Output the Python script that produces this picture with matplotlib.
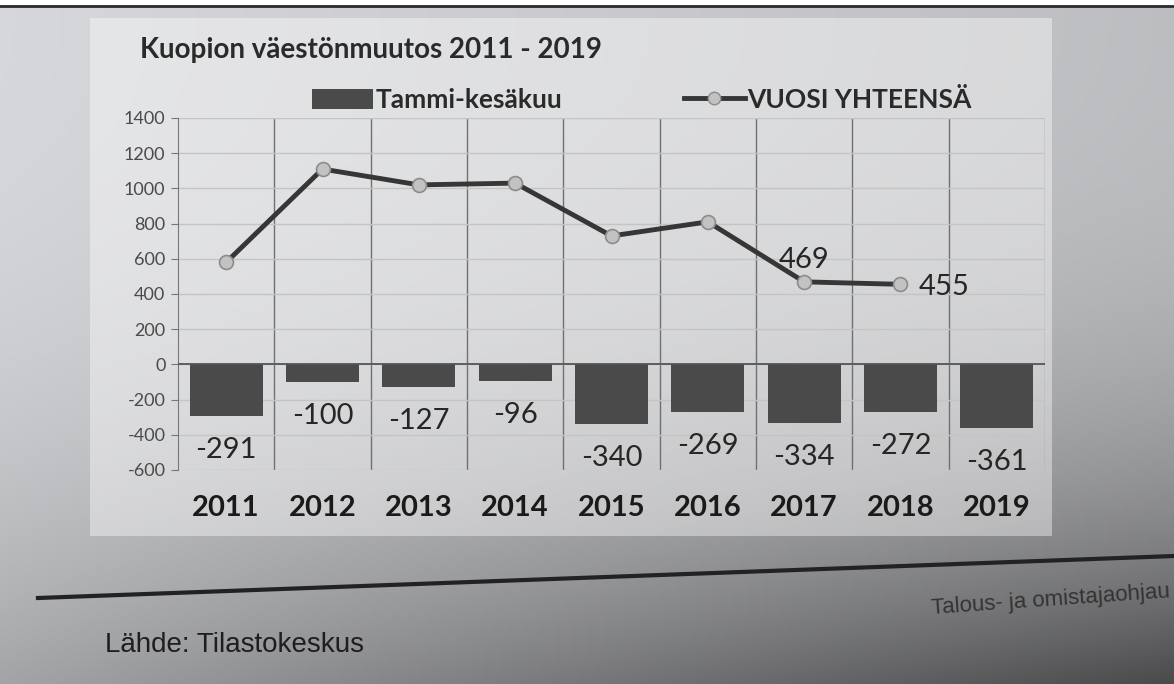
import numpy as np
import matplotlib
matplotlib.use("Agg")
import matplotlib.pyplot as plt
from matplotlib.lines import Line2D
from matplotlib.patches import Patch, Rectangle

# ---- data ----
years = ['2011', '2012', '2013', '2014', '2015', '2016', '2017', '2018', '2019']
tammi_kesakuu = [-291, -100, -127, -96, -340, -269, -334, -272, -361]
vuosi_yhteensa = [580, 1110, 1020, 1030, 730, 810, 469, 455, np.nan]
labelled_totals = {6: '469', 7: '455'}
y_ticks = [-600, -400, -200, 0, 200, 400, 600, 800, 1000, 1200, 1400]

plt.rcParams['font.family'] = ['Lato', 'DejaVu Sans']

W, H = 1174, 684
fig = plt.figure(figsize=(W / 100, H / 100), dpi=100)

# ---- photo-like page background ----
bg = fig.add_axes([0, 0, 1, 1], zorder=-10)
yy, xx = np.mgrid[0:1:200j, 0:1:300j]
shade = 0.84 - 0.10 * xx - 0.2 * yy ** 2.5 - 0.25 * xx * yy ** 3
bg.imshow(np.dstack([shade, shade * 1.005, shade * 1.02]).clip(0, 1),
          extent=[0, W, H, 0], aspect='auto')
bg.set_xlim(0, W)
bg.set_ylim(H, 0)
bg.axis('off')
bg.add_patch(Rectangle((0, 0), W, 6, fc='white', ec='none'))
bg.plot([0, W], [6, 6], color='#2a2a2a', lw=2)
bg.add_patch(Rectangle((90, 18), 962, 518, fc='white', alpha=0.4, ec='none'))
bg.plot([38, W], [598, 556], color='#222222', lw=3)
bg.text(105, 645, 'Lähde: Tilastokeskus', fontsize=20, color='#1e1e1e',
        family='Liberation Sans', va='center', ha='left')
bg.text(1171, 600, 'Talous- ja omistajaohjau', fontsize=16, color='#333333',
        family='Liberation Sans', va='center', ha='right', rotation=4)

# ---- chart ----
ax = fig.add_axes([178 / W, 1 - 470 / H, (1045 - 178) / W, (470 - 118) / H])
ax.patch.set_alpha(0)
x = np.arange(len(years))

ax.bar(x, tammi_kesakuu, width=0.76, color='#4a4a4a', zorder=2)
ax.plot(x, vuosi_yhteensa, color='#363636', lw=3.5, marker='o', ms=10,
        mfc='#c2c2c2', mec='#8c8c8c', mew=1.2, zorder=4)
ax.axhline(0, color='#555555', lw=1.3, zorder=3)

for i, v in enumerate(tammi_kesakuu):
    ax.annotate(str(v), (x[i], v), xytext=(0, -34), textcoords='offset pixels',
                ha='center', va='center', fontsize=21, color='#262626')
for i, t in labelled_totals.items():
    if i == 6:
        ax.annotate(t, (x[i], vuosi_yhteensa[i]), xytext=(0, 22), textcoords='offset pixels',
                    ha='center', va='center', fontsize=21, color='#262626')
    else:
        ax.annotate(t, (x[i], vuosi_yhteensa[i]), xytext=(18, -3), textcoords='offset pixels',
                    ha='left', va='center', fontsize=21, color='#262626')

ax.set_xlim(-0.5, len(years) - 0.5)
ax.set_ylim(-600, 1400)
ax.set_yticks(y_ticks)
ax.set_yticklabels([str(v) for v in y_ticks], fontsize=13, color='#4a4a4a')
ax.set_xticks(x)
ax.set_xticklabels(years, fontsize=21, fontweight='bold', color='#1a1a1a')
ax.set_xticks(np.arange(0.5, len(years) - 0.5, 1), minor=True)
ax.tick_params(axis='x', which='both', length=0, pad=18)
ax.tick_params(axis='y', length=5, color='#777777', pad=4)
ax.yaxis.grid(True, color='#c4c4c4', lw=1, zorder=0)
ax.xaxis.grid(True, which='minor', color='#707070', lw=1, zorder=0)
ax.xaxis.grid(False, which='major')
for s in ['top', 'right', 'bottom']:
    ax.spines[s].set_visible(False)
ax.spines['left'].set_color('#777777')
ax.axvline(len(years) - 0.5, color='#9a9a9a', lw=1, zorder=0)

fig.text(140 / W, 1 - 50 / H, 'Kuopion väestönmuutos 2011 - 2019', fontsize=20,
         fontweight='bold', color='#2a2a2a', va='center', ha='left')

handles = [Patch(fc='#4a4a4a', ec='none'),
           Line2D([], [], color='#363636', lw=3.5, marker='o', ms=9,
                  mfc='#c2c2c2', mec='#8c8c8c')]
leg = fig.legend(handles, ['Tammi-kesäkuu', 'VUOSI YHTEENSÄ'], ncol=2,
                 loc='center', bbox_to_anchor=(642 / W, 1 - 100 / H), frameon=False,
                 prop={'size': 19, 'weight': 'bold'}, handlelength=2.3,
                 handletextpad=0.1, columnspacing=4.6, handleheight=0.8)
for t in leg.get_texts():
    t.set_color('#2a2a2a')

fig.savefig('out.png', dpi=100)
